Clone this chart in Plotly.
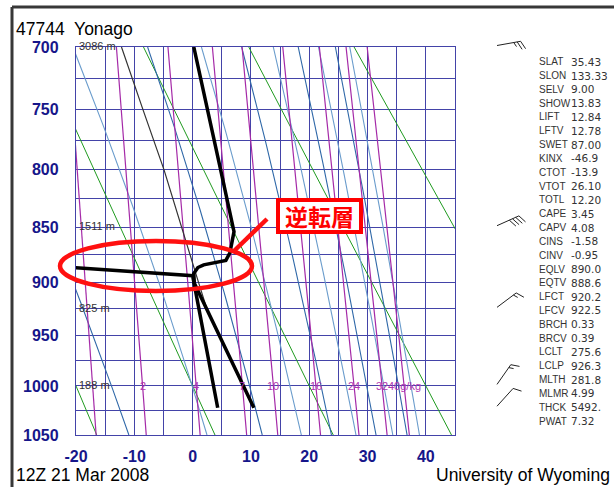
import numpy as np
import plotly.graph_objects as go

KAPPA = 0.286

# ---------------- data ----------------
temp_p = [1022, 917, 901, 892, 886.5, 884, 881, 880, 873, 854, 809, 700]
temp_c = [10.5, 1.7, 0.3, 0.2, 0.9, 1.9, 4.3, 5.7, 6.4, 7.1, 5.2, 0.2]

dwpt_p = [1022, 917, 901, 894, 886.6]
dwpt_c = [4.3, 0.9, 0.3, 0.0, -20.3]

parcel_p = [1022, 926, 900, 850, 800, 750, 700]
parcel_c = [10.5, 2.5, 1.0, -1.9, -4.9, -8.5, -12.2]

height_p = [700, 850, 925, 1000]
height_txt = ["3086 m", "1511 m", "825 m", "188 m"]

wind_p = [700, 850, 925, 1000, 1022]
wind_dir = [80, 66, 53, 35, 42]
wind_kt = [25, 40, 15, 15, 10]

# reference lines of the thermodynamic diagram
dry_theta_c = [-20, 0, 20, 40, 60]
mix_ratios = [1, 2, 4, 7, 10, 16, 24, 32, 40]
mix_labels = ["", "2", "4", "7", "10", "16", "24", "32", "40g/kg"]
moist_theta_e = [262.5, 282.7, 302.5, 321.5, 340.5, 360, 379.5, 399, 418.5, 438]

p_ticks = list(range(700, 1075, 25))
t_ticks = list(range(-20, 50, 5))

stat_names = ["SLAT", "SLON", "SELV", "SHOW", "LIFT", "LFTV", "SWET", "KINX", "CTOT",
              "VTOT", "TOTL", "CAPE", "CAPV", "CINS", "CINV", "EQLV", "EQTV", "LFCT",
              "LFCV", "BRCH", "BRCV", "LCLT", "LCLP", "MLTH", "MLMR", "THCK", "PWAT"]
stat_values = ["35.43", "133.33", "9.00", "13.83", "12.84", "12.78", "87.00", "-46.9", "-13.9",
               "26.10", "12.20", "3.45", "4.08", "-1.58", "-0.95", "890.0", "888.6", "920.2",
               "922.5", "0.33", "0.39", "275.6", "926.3", "281.8", "4.99", "5492.", "7.32"]

title_text = "47744  Yonago"
date_text = "12Z 21 Mar 2008"
credit_text = "University of Wyoming"
callout_text = "逆転層"

# ---------------- helpers ----------------
def Y(p):
    return np.asarray(p, dtype=float) ** KAPPA

W, H = 614, 487
L, R, T, B = 76, 455, 47, 435   # plot area in window pixels
Y_BOT, Y_TOP = float(Y(1050)), float(Y(700))

def PX(px):
    return (px - L) / (R - L)

def PY(py):
    return (B - py) / (B - T)

def p_to_paper(p):
    return (float(Y(p)) - Y_BOT) / (Y_TOP - Y_BOT)

def theta_e(tc, p):
    tk = tc + 273.15
    es = 6.112 * np.exp(17.67 * tc / (tc + 243.5))
    r = 0.622 * es / (p - es)
    return tk * (1000.0 / p) ** KAPPA * np.exp(2.5e6 * r / (1004.0 * tk))

def moist_T(te, p):
    lo, hi = -90.0, 60.0
    for _ in range(60):
        mid = 0.5 * (lo + hi)
        if theta_e(mid, p) > te:
            hi = mid
        else:
            lo = mid
    return 0.5 * (lo + hi)

def mix_T(w, p):
    e = w * p / (622.0 + w)
    g = np.log(e / 6.112)
    return 243.5 * g / (17.67 - g)

pp = np.linspace(700, 1050, 71)

fig = go.Figure()

for th in dry_theta_c:
    tt = (th + 273.15) * (pp / 1000.0) ** KAPPA - 273.15
    fig.add_trace(go.Scatter(x=tt, y=Y(pp), mode="lines",
                             line=dict(color="#1f9a1f", width=1), hoverinfo="skip"))

for i, te in enumerate(moist_theta_e):
    tt = [moist_T(te, p) for p in pp]
    fig.add_trace(go.Scatter(x=tt, y=Y(pp), mode="lines",
                             line=dict(color="#2f68a8" if i % 2 == 0 else "#6a9ccc", width=1.1),
                             hoverinfo="skip"))

for w in mix_ratios:
    tt = [mix_T(w, p) for p in pp]
    fig.add_trace(go.Scatter(x=tt, y=Y(pp), mode="lines",
                             line=dict(color="#a52aa8", width=1.2), hoverinfo="skip"))

fig.add_trace(go.Scatter(x=parcel_c, y=Y(parcel_p), mode="lines",
                         line=dict(color="#333333", width=1.2), hoverinfo="skip"))
fig.add_trace(go.Scatter(x=dwpt_c, y=Y(dwpt_p), mode="lines",
                         line=dict(color="black", width=3.5), hoverinfo="skip"))
fig.add_trace(go.Scatter(x=temp_c, y=Y(temp_p), mode="lines",
                         line=dict(color="black", width=3.5), hoverinfo="skip"))

GRID = "#4343a8"
NAVY = "#16168a"
tickfont = dict(family="Liberation Sans", size=16, color=NAVY, weight="bold")

fig.update_xaxes(range=[-20, 45], tickmode="array", tickvals=t_ticks,
                 ticktext=[str(v) if v % 10 == 0 else "" for v in t_ticks],
                 showgrid=True, gridcolor=GRID, gridwidth=1.3, zeroline=False,
                 showline=True, mirror=True, linecolor=GRID, linewidth=1.3,
                 ticks="", ticklabelstandoff=7, tickfont=tickfont)
fig.update_yaxes(range=[Y_BOT, Y_TOP], tickmode="array",
                 tickvals=[float(Y(p)) for p in p_ticks],
                 ticktext=[str(p) if p % 50 == 0 else "" for p in p_ticks],
                 showgrid=True, gridcolor=GRID, gridwidth=1.3, zeroline=False,
                 showline=True, mirror=True, linecolor=GRID, linewidth=1.3,
                 ticks="", ticklabelstandoff=13, tickfont=tickfont)

annotations = []
for w, lab in zip(mix_ratios, mix_labels):
    if lab:
        annotations.append(dict(x=float(mix_T(w, 1000.0)), y=float(Y(1000)), xref="x", yref="y",
                                text=lab, showarrow=False, xanchor="center", yanchor="middle",
                                font=dict(family="Liberation Sans", size=11, color="#b035b0")))
for p, txt in zip(height_p, height_txt):
    annotations.append(dict(x=-20, y=float(Y(p)), xref="x", yref="y", text=txt, showarrow=False,
                            xanchor="left", yanchor="middle", xshift=1, yshift=1,
                            font=dict(family="Liberation Sans", size=11, color="#333333")))
for i, (nm, val) in enumerate(zip(stat_names, stat_values)):
    yy = PY(61.7 + i * 13.82)
    annotations.append(dict(x=PX(537), y=yy, xref="paper", yref="paper", text=nm, showarrow=False,
                            xanchor="left", yanchor="middle",
                            font=dict(family="Liberation Sans", size=10, color="#333333")))
    annotations.append(dict(x=PX(569), y=yy, xref="paper", yref="paper", text=val, showarrow=False,
                            xanchor="left", yanchor="middle",
                            font=dict(family="DejaVu Sans", size=10.5, color="#333333")))
big = dict(family="Liberation Sans", size=17.5, color="black")
annotations.append(dict(x=PX(14), y=PY(29), xref="paper", yref="paper", text=title_text,
                        showarrow=False, xanchor="left", yanchor="middle", font=big))
annotations.append(dict(x=PX(14), y=PY(487), xref="paper", yref="paper", text=date_text,
                        showarrow=False, xanchor="left", yanchor="bottom", font=big))
annotations.append(dict(x=PX(612), y=PY(487), xref="paper", yref="paper", text=credit_text,
                        showarrow=False, xanchor="right", yanchor="bottom", font=big))
annotations.append(dict(x=PX(319.5), y=PY(216), xref="paper", yref="paper", text=callout_text,
                        showarrow=False, xanchor="center", yanchor="middle", width=77, height=26,
                        font=dict(family="Noto Sans CJK JP", size=23, color="#ff0000", weight="bold"),
                        bgcolor="white", bordercolor="#ff0000", borderwidth=4, borderpad=1))

shapes = []
shapes.append(dict(type="line", xref="paper", yref="paper", x0=PX(12), x1=PX(620), y0=PY(7), y1=PY(7),
                   line=dict(color="#383838", width=3)))
shapes.append(dict(type="line", xref="paper", yref="paper", x0=PX(12), x1=PX(12), y0=PY(7), y1=PY(495),
                   line=dict(color="#383838", width=3)))
shapes.append(dict(type="circle", xref="paper", yref="paper", x0=PX(60), x1=PX(252), y0=PY(291), y1=PY(241),
                   line=dict(color="#ff1010", width=4.5)))
shapes.append(dict(type="line", xref="paper", yref="paper", x0=PX(267), y0=PY(219), x1=PX(233), y1=PY(252),
                   line=dict(color="#ff1010", width=4.5)))

def barb_path(dir_deg, kt, staff=24.0):
    a = np.radians(dir_deg)
    ux, uy = np.sin(a), -np.cos(a)          # screen coords, y down
    qx, qy = -uy, ux                        # clockwise side
    tx, ty = ux * staff, uy * staff
    segs = ["M0,0 L%.1f,%.1f" % (tx, -ty)]
    s = 0.0
    n_full, half = int(kt // 10), (kt % 10) >= 5
    feathers = [9.0] * n_full + ([5.0] if half else [])
    for ln in feathers:
        bx, by = tx - ux * s, ty - uy * s
        ex, ey = bx + qx * ln * 0.9 + ux * ln * 0.4, by + qy * ln * 0.9 + uy * ln * 0.4
        segs.append("M%.1f,%.1f L%.1f,%.1f" % (bx, -by, ex, -ey))
        s += 3.5
    return " ".join(segs)

for p, d, k in zip(wind_p, wind_dir, wind_kt):
    shapes.append(dict(type="path", xref="paper", yref="paper", xsizemode="pixel", ysizemode="pixel",
                       xanchor=PX(497), yanchor=p_to_paper(p) + 1.5 / (B - T), path=barb_path(d, k),
                       line=dict(color="#222222", width=1)))

fig.update_layout(width=W, height=H,
                  margin=dict(l=L, r=W - R, t=T, b=H - B),
                  plot_bgcolor="white", paper_bgcolor="white", showlegend=False,
                  annotations=annotations, shapes=shapes)

fig.write_html("out.html", config={"displayModeBar": False},
               post_script="document.body.style.margin='0';document.body.style.overflow='hidden';")
